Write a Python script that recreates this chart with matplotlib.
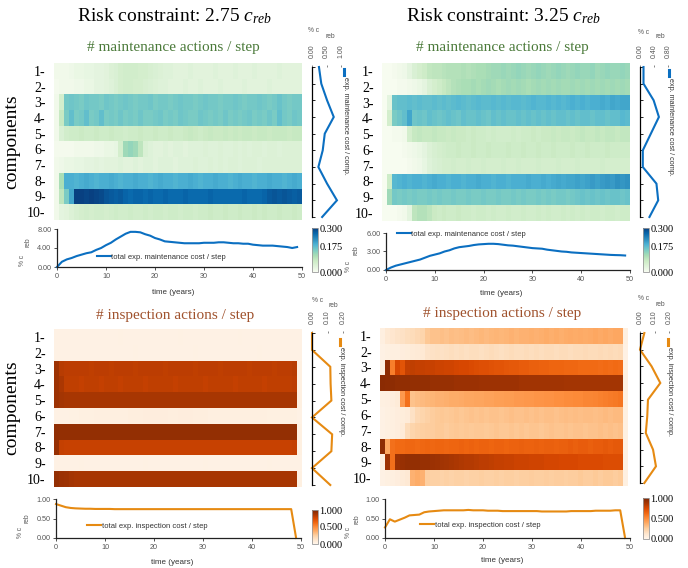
import numpy as np
import matplotlib
matplotlib.use("Agg")
import matplotlib.pyplot as plt
from matplotlib.lines import Line2D

plt.rcParams['mathtext.fontset'] = 'custom'
plt.rcParams['mathtext.rm'] = 'Liberation Serif'
plt.rcParams['mathtext.it'] = 'Liberation Serif:italic'

SERIF = 'Liberation Serif'
SANS = 'Liberation Sans'
GREY = '#555555'
BLUE = '#0b6fc1'
ORANGE = '#e68a12'

years = np.arange(50)
components = [f'{i}-' for i in range(1, 11)]

# ---------------- maintenance actions / step, risk 2.75 ----------------
maint_275 = [
    [0.01, 0.01, 0.01, 0.015, 0.02, 0.02, 0.025, 0.025, 0.03, 0.03,
     0.035, 0.045, 0.05, 0.06, 0.065, 0.065, 0.065, 0.06, 0.06, 0.055,
     0.05, 0.045, 0.04, 0.04, 0.035, 0.035, 0.035, 0.04, 0.035, 0.035,
     0.035, 0.035, 0.04, 0.035, 0.035, 0.035, 0.04, 0.035, 0.035, 0.035,
     0.04, 0.035, 0.035, 0.035, 0.035, 0.04, 0.035, 0.035, 0.035, 0.035],
    [0.005, 0.01, 0.01, 0.01, 0.015, 0.015, 0.02, 0.02, 0.03, 0.03,
     0.035, 0.04, 0.05, 0.06, 0.065, 0.065, 0.06, 0.06, 0.055, 0.05,
     0.045, 0.04, 0.04, 0.035, 0.035, 0.035, 0.04, 0.035, 0.035, 0.04,
     0.035, 0.035, 0.035, 0.04, 0.035, 0.035, 0.035, 0.035, 0.04, 0.035,
     0.035, 0.035, 0.035, 0.04, 0.035, 0.035, 0.035, 0.035, 0.035, 0.035],
    [0.01, 0.06, 0.155, 0.16, 0.155, 0.15, 0.16, 0.155, 0.155, 0.15,
     0.16, 0.155, 0.15, 0.155, 0.16, 0.155, 0.15, 0.155, 0.155, 0.16,
     0.15, 0.155, 0.155, 0.15, 0.155, 0.16, 0.155, 0.155, 0.15, 0.155,
     0.16, 0.155, 0.155, 0.15, 0.155, 0.155, 0.16, 0.155, 0.15, 0.155,
     0.155, 0.16, 0.155, 0.15, 0.155, 0.165, 0.155, 0.15, 0.155, 0.155],
    [0.01, 0.08, 0.15, 0.17, 0.15, 0.155, 0.17, 0.15, 0.155, 0.17,
     0.15, 0.155, 0.15, 0.16, 0.15, 0.155, 0.15, 0.16, 0.15, 0.15,
     0.155, 0.16, 0.15, 0.155, 0.15, 0.16, 0.155, 0.15, 0.15, 0.16,
     0.155, 0.15, 0.155, 0.15, 0.16, 0.15, 0.155, 0.15, 0.155, 0.16,
     0.15, 0.155, 0.15, 0.16, 0.15, 0.17, 0.155, 0.15, 0.16, 0.155],
    [0.01, 0.05, 0.065, 0.07, 0.07, 0.075, 0.07, 0.07, 0.075, 0.07,
     0.07, 0.075, 0.07, 0.07, 0.065, 0.07, 0.07, 0.075, 0.07, 0.07,
     0.075, 0.07, 0.07, 0.075, 0.07, 0.07, 0.075, 0.08, 0.075, 0.07,
     0.075, 0.08, 0.075, 0.075, 0.08, 0.075, 0.08, 0.075, 0.08, 0.08,
     0.075, 0.08, 0.08, 0.075, 0.08, 0.08, 0.08, 0.075, 0.08, 0.08],
    [0.005, 0.005, 0.005, 0.005, 0.01, 0.01, 0.01, 0.01, 0.015, 0.015,
     0.02, 0.02, 0.025, 0.06, 0.12, 0.13, 0.12, 0.09, 0.05, 0.04,
     0.035, 0.035, 0.04, 0.035, 0.04, 0.04, 0.035, 0.04, 0.04, 0.04,
     0.045, 0.04, 0.04, 0.045, 0.04, 0.04, 0.045, 0.04, 0.045, 0.04,
     0.045, 0.045, 0.04, 0.045, 0.045, 0.04, 0.045, 0.045, 0.045, 0.045],
    [0.01, 0.015, 0.02, 0.02, 0.025, 0.025, 0.03, 0.03, 0.035, 0.03,
     0.035, 0.035, 0.035, 0.04, 0.035, 0.035, 0.04, 0.035, 0.04, 0.04,
     0.035, 0.04, 0.04, 0.04, 0.035, 0.04, 0.04, 0.04, 0.045, 0.04,
     0.04, 0.045, 0.04, 0.045, 0.04, 0.045, 0.045, 0.04, 0.045, 0.045,
     0.045, 0.04, 0.045, 0.045, 0.045, 0.045, 0.045, 0.045, 0.045, 0.045],
    [0.01, 0.11, 0.19, 0.19, 0.185, 0.19, 0.195, 0.19, 0.185, 0.19,
     0.19, 0.195, 0.19, 0.185, 0.19, 0.19, 0.195, 0.19, 0.19, 0.185,
     0.19, 0.195, 0.19, 0.19, 0.185, 0.19, 0.19, 0.195, 0.19, 0.185,
     0.19, 0.19, 0.195, 0.19, 0.19, 0.185, 0.19, 0.195, 0.19, 0.19,
     0.185, 0.19, 0.19, 0.195, 0.19, 0.19, 0.185, 0.19, 0.195, 0.19],
    [0.01, 0.09, 0.15, 0.2, 0.3, 0.3, 0.295, 0.3, 0.295, 0.29,
     0.28, 0.275, 0.27, 0.275, 0.265, 0.26, 0.265, 0.265, 0.26, 0.265,
     0.26, 0.26, 0.265, 0.26, 0.26, 0.26, 0.265, 0.26, 0.26, 0.26,
     0.26, 0.265, 0.26, 0.26, 0.26, 0.26, 0.26, 0.26, 0.265, 0.26,
     0.26, 0.26, 0.265, 0.275, 0.28, 0.275, 0.28, 0.275, 0.27, 0.275],
    [0.01, 0.03, 0.035, 0.045, 0.055, 0.06, 0.065, 0.06, 0.065, 0.065,
     0.06, 0.065, 0.07, 0.065, 0.065, 0.07, 0.065, 0.065, 0.07, 0.065,
     0.07, 0.07, 0.065, 0.07, 0.07, 0.065, 0.07, 0.07, 0.065, 0.07,
     0.07, 0.075, 0.07, 0.07, 0.075, 0.07, 0.07, 0.075, 0.07, 0.07,
     0.075, 0.07, 0.075, 0.07, 0.07, 0.075, 0.07, 0.07, 0.075, 0.07],
]

# ---------------- maintenance actions / step, risk 3.25 ----------------
maint_325 = [
    [0.0, 0.0, 0.005, 0.01, 0.015, 0.03, 0.05, 0.06, 0.07, 0.085,
     0.09, 0.09, 0.095, 0.1, 0.1, 0.1, 0.105, 0.1, 0.105, 0.11,
     0.11, 0.115, 0.12, 0.12, 0.125, 0.12, 0.125, 0.13, 0.125, 0.12,
     0.125, 0.13, 0.125, 0.12, 0.125, 0.13, 0.125, 0.12, 0.125, 0.13,
     0.125, 0.125, 0.13, 0.12, 0.125, 0.13, 0.125, 0.125, 0.13, 0.125],
    [0.0, 0.0, 0.0, 0.005, 0.005, 0.01, 0.015, 0.02, 0.03, 0.05,
     0.06, 0.07, 0.08, 0.09, 0.1, 0.105, 0.11, 0.11, 0.115, 0.11,
     0.115, 0.12, 0.115, 0.11, 0.115, 0.12, 0.115, 0.12, 0.115, 0.11,
     0.115, 0.12, 0.115, 0.12, 0.115, 0.12, 0.115, 0.115, 0.12, 0.115,
     0.12, 0.115, 0.12, 0.115, 0.12, 0.115, 0.12, 0.115, 0.12, 0.115],
    [0.0, 0.03, 0.165, 0.17, 0.17, 0.175, 0.17, 0.175, 0.17, 0.17,
     0.175, 0.17, 0.175, 0.17, 0.175, 0.18, 0.175, 0.17, 0.175, 0.18,
     0.175, 0.175, 0.18, 0.175, 0.18, 0.175, 0.18, 0.18, 0.175, 0.18,
     0.185, 0.18, 0.18, 0.185, 0.18, 0.185, 0.18, 0.185, 0.19, 0.185,
     0.19, 0.185, 0.19, 0.19, 0.195, 0.19, 0.2, 0.195, 0.2, 0.2],
    [0.0, 0.06, 0.15, 0.16, 0.17, 0.2, 0.16, 0.165, 0.16, 0.17,
     0.165, 0.16, 0.165, 0.17, 0.165, 0.16, 0.17, 0.165, 0.165, 0.17,
     0.165, 0.16, 0.17, 0.165, 0.17, 0.165, 0.165, 0.17, 0.165, 0.17,
     0.165, 0.17, 0.165, 0.17, 0.165, 0.17, 0.17, 0.165, 0.17, 0.165,
     0.17, 0.17, 0.165, 0.17, 0.17, 0.165, 0.17, 0.17, 0.18, 0.175],
    [0.0, 0.0, 0.005, 0.005, 0.01, 0.06, 0.08, 0.085, 0.08, 0.08,
     0.085, 0.08, 0.08, 0.075, 0.08, 0.075, 0.075, 0.07, 0.075, 0.07,
     0.07, 0.065, 0.07, 0.065, 0.065, 0.065, 0.07, 0.065, 0.07, 0.07,
     0.075, 0.07, 0.075, 0.075, 0.08, 0.075, 0.08, 0.08, 0.075, 0.08,
     0.085, 0.08, 0.08, 0.085, 0.08, 0.085, 0.085, 0.08, 0.085, 0.085],
    [0.0, 0.0, 0.0, 0.0, 0.005, 0.01, 0.015, 0.02, 0.03, 0.045,
     0.055, 0.06, 0.065, 0.07, 0.07, 0.075, 0.07, 0.07, 0.075, 0.07,
     0.07, 0.075, 0.07, 0.07, 0.07, 0.075, 0.07, 0.07, 0.075, 0.07,
     0.07, 0.075, 0.07, 0.07, 0.075, 0.07, 0.07, 0.07, 0.075, 0.07,
     0.07, 0.075, 0.07, 0.07, 0.07, 0.075, 0.07, 0.07, 0.07, 0.07],
    [0.0, 0.0, 0.0, 0.0, 0.0, 0.005, 0.01, 0.015, 0.025, 0.04,
     0.05, 0.055, 0.06, 0.06, 0.065, 0.06, 0.06, 0.065, 0.06, 0.06,
     0.065, 0.06, 0.06, 0.06, 0.065, 0.06, 0.06, 0.065, 0.06, 0.06,
     0.06, 0.065, 0.06, 0.06, 0.06, 0.065, 0.06, 0.06, 0.06, 0.065,
     0.06, 0.06, 0.06, 0.06, 0.065, 0.06, 0.06, 0.06, 0.06, 0.06],
    [0.0, 0.07, 0.18, 0.185, 0.19, 0.185, 0.19, 0.19, 0.185, 0.19,
     0.195, 0.19, 0.19, 0.185, 0.19, 0.19, 0.185, 0.19, 0.19, 0.195,
     0.19, 0.19, 0.185, 0.19, 0.19, 0.185, 0.19, 0.19, 0.19, 0.195,
     0.19, 0.19, 0.195, 0.19, 0.195, 0.2, 0.195, 0.2, 0.2, 0.205,
     0.2, 0.205, 0.21, 0.205, 0.21, 0.215, 0.21, 0.22, 0.215, 0.22],
    [0.0, 0.12, 0.155, 0.15, 0.155, 0.15, 0.155, 0.15, 0.15, 0.155,
     0.15, 0.155, 0.15, 0.15, 0.155, 0.15, 0.15, 0.155, 0.15, 0.15,
     0.155, 0.15, 0.15, 0.155, 0.15, 0.15, 0.155, 0.15, 0.155, 0.15,
     0.15, 0.155, 0.15, 0.155, 0.15, 0.155, 0.155, 0.15, 0.155, 0.16,
     0.165, 0.16, 0.165, 0.16, 0.165, 0.16, 0.165, 0.165, 0.16, 0.165],
    [0.0, 0.0, 0.0, 0.005, 0.01, 0.03, 0.09, 0.1, 0.1, 0.09,
     0.075, 0.07, 0.075, 0.07, 0.07, 0.075, 0.07, 0.07, 0.065, 0.07,
     0.07, 0.065, 0.07, 0.065, 0.065, 0.07, 0.065, 0.065, 0.07, 0.065,
     0.065, 0.07, 0.065, 0.07, 0.065, 0.065, 0.07, 0.065, 0.07, 0.065,
     0.07, 0.065, 0.07, 0.07, 0.065, 0.07, 0.07, 0.065, 0.07, 0.07],
]

# ---------------- inspection actions / step, risk 2.75 ----------------
insp_275 = [
    [0.03, 0.03, 0.03, 0.03, 0.03, 0.03, 0.03, 0.03, 0.03, 0.03,
     0.03, 0.03, 0.03, 0.035, 0.03, 0.03, 0.03, 0.03, 0.03, 0.03,
     0.03, 0.03, 0.03, 0.03, 0.03, 0.035, 0.03, 0.03, 0.03, 0.03,
     0.03, 0.03, 0.03, 0.03, 0.03, 0.03, 0.03, 0.035, 0.03, 0.03,
     0.03, 0.03, 0.03, 0.03, 0.03, 0.03, 0.03, 0.03, 0.03, 0.03],
    [0.03, 0.03, 0.03, 0.03, 0.03, 0.03, 0.03, 0.03, 0.03, 0.03,
     0.03, 0.03, 0.03, 0.03, 0.03, 0.03, 0.035, 0.03, 0.03, 0.03,
     0.03, 0.03, 0.03, 0.03, 0.03, 0.03, 0.03, 0.03, 0.035, 0.03,
     0.03, 0.03, 0.03, 0.03, 0.03, 0.03, 0.03, 0.03, 0.03, 0.03,
     0.03, 0.035, 0.03, 0.03, 0.03, 0.03, 0.03, 0.03, 0.03, 0.03],
    [0.9, 0.83, 0.82, 0.82, 0.82, 0.82, 0.82, 0.81, 0.82, 0.82,
     0.82, 0.81, 0.82, 0.82, 0.82, 0.82, 0.81, 0.82, 0.82, 0.82,
     0.82, 0.82, 0.81, 0.82, 0.82, 0.82, 0.82, 0.82, 0.81, 0.82,
     0.82, 0.82, 0.82, 0.81, 0.82, 0.82, 0.82, 0.82, 0.82, 0.81,
     0.82, 0.82, 0.82, 0.82, 0.81, 0.82, 0.82, 0.82, 0.83, 0.04],
    [0.9, 0.86, 0.81, 0.81, 0.81, 0.8, 0.81, 0.81, 0.81, 0.8,
     0.81, 0.81, 0.81, 0.8, 0.81, 0.81, 0.81, 0.81, 0.8, 0.81,
     0.81, 0.81, 0.81, 0.81, 0.8, 0.81, 0.81, 0.81, 0.81, 0.81,
     0.8, 0.81, 0.81, 0.81, 0.81, 0.81, 0.8, 0.81, 0.81, 0.81,
     0.81, 0.81, 0.8, 0.81, 0.81, 0.81, 0.81, 0.81, 0.82, 0.04],
    [0.9, 0.88, 0.87, 0.87, 0.87, 0.87, 0.87, 0.87, 0.87, 0.87,
     0.87, 0.87, 0.87, 0.87, 0.87, 0.87, 0.87, 0.87, 0.87, 0.87,
     0.87, 0.87, 0.87, 0.87, 0.87, 0.87, 0.87, 0.87, 0.87, 0.87,
     0.87, 0.87, 0.87, 0.87, 0.87, 0.87, 0.87, 0.87, 0.87, 0.87,
     0.87, 0.87, 0.87, 0.87, 0.87, 0.87, 0.87, 0.87, 0.87, 0.04],
    [0.03, 0.03, 0.03, 0.035, 0.035, 0.04, 0.04, 0.04, 0.045, 0.045,
     0.045, 0.05, 0.05, 0.05, 0.05, 0.055, 0.055, 0.055, 0.06, 0.06,
     0.06, 0.06, 0.06, 0.055, 0.055, 0.06, 0.06, 0.06, 0.055, 0.055,
     0.055, 0.05, 0.05, 0.05, 0.05, 0.05, 0.05, 0.045, 0.045, 0.045,
     0.045, 0.045, 0.045, 0.04, 0.04, 0.04, 0.04, 0.04, 0.04, 0.03],
    [0.94, 0.93, 0.93, 0.93, 0.93, 0.93, 0.93, 0.93, 0.93, 0.93,
     0.93, 0.93, 0.93, 0.93, 0.93, 0.93, 0.93, 0.93, 0.93, 0.93,
     0.93, 0.93, 0.93, 0.93, 0.93, 0.93, 0.93, 0.93, 0.93, 0.93,
     0.93, 0.93, 0.93, 0.93, 0.93, 0.93, 0.93, 0.93, 0.93, 0.93,
     0.93, 0.93, 0.93, 0.93, 0.93, 0.93, 0.93, 0.93, 0.93, 0.04],
    [0.92, 0.8, 0.79, 0.79, 0.79, 0.79, 0.79, 0.79, 0.79, 0.79,
     0.79, 0.79, 0.79, 0.79, 0.79, 0.79, 0.79, 0.79, 0.79, 0.79,
     0.79, 0.79, 0.79, 0.79, 0.79, 0.79, 0.79, 0.79, 0.79, 0.79,
     0.79, 0.79, 0.79, 0.79, 0.79, 0.79, 0.79, 0.79, 0.79, 0.79,
     0.79, 0.79, 0.79, 0.79, 0.79, 0.79, 0.79, 0.79, 0.8, 0.04],
    [0.03, 0.03, 0.03, 0.03, 0.03, 0.035, 0.03, 0.03, 0.03, 0.03,
     0.03, 0.03, 0.03, 0.03, 0.03, 0.03, 0.03, 0.03, 0.035, 0.03,
     0.03, 0.03, 0.03, 0.03, 0.03, 0.03, 0.03, 0.03, 0.03, 0.03,
     0.035, 0.03, 0.03, 0.03, 0.03, 0.03, 0.03, 0.03, 0.03, 0.03,
     0.03, 0.03, 0.03, 0.035, 0.03, 0.03, 0.03, 0.03, 0.03, 0.03],
    [0.93, 0.91, 0.9, 0.88, 0.87, 0.87, 0.87, 0.87, 0.87, 0.87,
     0.87, 0.87, 0.87, 0.87, 0.87, 0.87, 0.87, 0.87, 0.87, 0.87,
     0.87, 0.87, 0.87, 0.87, 0.87, 0.87, 0.87, 0.87, 0.87, 0.87,
     0.87, 0.87, 0.87, 0.87, 0.87, 0.87, 0.87, 0.87, 0.87, 0.87,
     0.87, 0.87, 0.87, 0.87, 0.87, 0.87, 0.87, 0.87, 0.87, 0.04],
]

# ---------------- inspection actions / step, risk 3.25 ----------------
insp_325 = [
    [0.05, 0.1, 0.12, 0.14, 0.15, 0.17, 0.18, 0.2, 0.22, 0.28,
     0.3, 0.3, 0.31, 0.3, 0.32, 0.31, 0.32, 0.33, 0.32, 0.33,
     0.34, 0.33, 0.34, 0.35, 0.34, 0.35, 0.36, 0.35, 0.36, 0.36,
     0.37, 0.36, 0.37, 0.38, 0.37, 0.38, 0.37, 0.38, 0.39, 0.38,
     0.39, 0.38, 0.39, 0.4, 0.39, 0.4, 0.39, 0.4, 0.4, 0.04],
    [0.03, 0.04, 0.05, 0.05, 0.06, 0.07, 0.08, 0.09, 0.1, 0.14,
     0.15, 0.16, 0.15, 0.16, 0.17, 0.16, 0.17, 0.16, 0.17, 0.17,
     0.16, 0.17, 0.18, 0.17, 0.16, 0.17, 0.18, 0.17, 0.17, 0.18,
     0.17, 0.18, 0.17, 0.18, 0.18, 0.17, 0.18, 0.18, 0.17, 0.18,
     0.18, 0.19, 0.18, 0.18, 0.19, 0.18, 0.19, 0.18, 0.19, 0.03],
    [0.04, 0.95, 0.55, 0.75, 0.7, 0.8, 0.81, 0.8, 0.8, 0.79,
     0.79, 0.78, 0.78, 0.77, 0.77, 0.76, 0.75, 0.75, 0.74, 0.73,
     0.72, 0.72, 0.71, 0.7, 0.7, 0.69, 0.68, 0.68, 0.67, 0.67,
     0.66, 0.66, 0.65, 0.65, 0.64, 0.64, 0.64, 0.63, 0.63, 0.63,
     0.62, 0.62, 0.62, 0.62, 0.61, 0.62, 0.61, 0.62, 0.61, 0.04],
    [0.96, 0.95, 0.95, 0.94, 0.94, 0.94, 0.93, 0.93, 0.93, 0.93,
     0.92, 0.92, 0.92, 0.92, 0.92, 0.91, 0.91, 0.91, 0.91, 0.91,
     0.9, 0.9, 0.9, 0.9, 0.9, 0.9, 0.9, 0.9, 0.89, 0.89,
     0.89, 0.89, 0.89, 0.89, 0.89, 0.89, 0.89, 0.88, 0.88, 0.88,
     0.88, 0.88, 0.88, 0.88, 0.88, 0.88, 0.88, 0.88, 0.88, 0.04],
    [0.04, 0.05, 0.06, 0.08, 0.45, 0.6, 0.3, 0.32, 0.33, 0.34,
     0.35, 0.36, 0.36, 0.37, 0.38, 0.38, 0.39, 0.4, 0.4, 0.41,
     0.41, 0.42, 0.42, 0.43, 0.43, 0.44, 0.44, 0.45, 0.45, 0.46,
     0.46, 0.47, 0.47, 0.48, 0.48, 0.49, 0.49, 0.5, 0.5, 0.51,
     0.51, 0.52, 0.52, 0.53, 0.54, 0.55, 0.56, 0.57, 0.58, 0.04],
    [0.03, 0.04, 0.05, 0.06, 0.07, 0.08, 0.15, 0.2, 0.22, 0.24,
     0.26, 0.27, 0.28, 0.27, 0.28, 0.29, 0.28, 0.29, 0.3, 0.29,
     0.3, 0.29, 0.3, 0.3, 0.29, 0.3, 0.31, 0.3, 0.3, 0.31,
     0.3, 0.31, 0.3, 0.31, 0.31, 0.3, 0.31, 0.32, 0.31, 0.32,
     0.31, 0.32, 0.32, 0.31, 0.32, 0.33, 0.32, 0.33, 0.33, 0.04],
    [0.03, 0.04, 0.05, 0.06, 0.08, 0.18, 0.22, 0.24, 0.25, 0.26,
     0.26, 0.27, 0.27, 0.26, 0.27, 0.28, 0.27, 0.28, 0.27, 0.28,
     0.28, 0.27, 0.28, 0.29, 0.28, 0.28, 0.29, 0.28, 0.29, 0.28,
     0.29, 0.29, 0.28, 0.29, 0.3, 0.29, 0.29, 0.3, 0.29, 0.3,
     0.3, 0.29, 0.3, 0.3, 0.31, 0.3, 0.31, 0.3, 0.31, 0.04],
    [0.95, 0.4, 0.6, 0.62, 0.62, 0.63, 0.63, 0.62, 0.63, 0.64,
     0.63, 0.64, 0.64, 0.63, 0.64, 0.64, 0.65, 0.64, 0.65, 0.64,
     0.65, 0.65, 0.64, 0.65, 0.65, 0.64, 0.65, 0.65, 0.66, 0.65,
     0.65, 0.66, 0.65, 0.66, 0.66, 0.65, 0.66, 0.66, 0.67, 0.66,
     0.67, 0.67, 0.66, 0.67, 0.67, 0.68, 0.67, 0.68, 0.68, 0.04],
    [0.04, 0.9, 0.6, 0.9, 0.92, 0.93, 0.93, 0.93, 0.92, 0.92,
     0.91, 0.9, 0.89, 0.88, 0.87, 0.86, 0.85, 0.84, 0.84, 0.83,
     0.82, 0.82, 0.81, 0.8, 0.8, 0.79, 0.79, 0.78, 0.78, 0.78,
     0.77, 0.77, 0.77, 0.76, 0.76, 0.76, 0.75, 0.75, 0.75, 0.75,
     0.74, 0.74, 0.74, 0.74, 0.74, 0.73, 0.73, 0.73, 0.73, 0.04],
    [0.03, 0.04, 0.05, 0.06, 0.08, 0.1, 0.36, 0.38, 0.36, 0.25,
     0.24, 0.24, 0.23, 0.24, 0.23, 0.24, 0.24, 0.23, 0.24, 0.24,
     0.25, 0.24, 0.24, 0.25, 0.24, 0.25, 0.25, 0.24, 0.25, 0.25,
     0.26, 0.25, 0.25, 0.26, 0.25, 0.26, 0.26, 0.25, 0.26, 0.26,
     0.27, 0.26, 0.26, 0.27, 0.26, 0.27, 0.27, 0.26, 0.27, 0.04],
]

# expected cost per component (% c_reb)
maint_comp_275 = [0.24, 0.32, 0.52, 0.75, 0.44, 0.37, 0.22, 0.52, 0.86, 0.35]
maint_comp_325 = [0.10, 0.10, 0.39, 0.54, 0.31, 0.08, 0.08, 0.47, 0.52, 0.27]
insp_comp_275 = [0.0, 0.0, 0.118, 0.12, 0.125, 0.0, 0.13, 0.125, 0.0, 0.118]
insp_comp_325 = [0.03, 0.0, 0.08, 0.14, 0.055, 0.05, 0.04, 0.09, 0.11, 0.03]

# total expected cost per step (% c_reb)
maint_total_275 = [0.0, 1.1, 1.6, 1.9, 2.3, 2.6, 2.9, 3.1, 3.6, 4.0,
                   4.6, 5.1, 5.8, 6.4, 7.0, 7.4, 7.4, 7.3, 6.9, 6.6,
                   6.1, 5.8, 5.4, 5.3, 5.2, 5.1, 5.0, 5.0, 5.0, 5.0,
                   5.1, 5.1, 5.1, 5.2, 5.2, 5.1, 5.0, 5.0, 4.9, 4.9,
                   4.7, 4.6, 4.5, 4.5, 4.5, 4.4, 4.3, 4.2, 4.0, 4.2]
maint_total_325 = [0.0, 0.4, 0.7, 0.9, 1.1, 1.3, 1.5, 1.7, 2.0, 2.3,
                   2.5, 2.7, 3.0, 3.2, 3.5, 3.7, 3.8, 3.9, 4.05, 4.15,
                   4.2, 4.25, 4.25, 4.2, 4.1, 4.0, 3.95, 3.85, 3.75, 3.65,
                   3.55, 3.5, 3.45, 3.3, 3.2, 3.1, 3.0, 2.95, 2.85, 2.8,
                   2.75, 2.7, 2.65, 2.6, 2.55, 2.5, 2.45, 2.42, 2.4, 2.35]
insp_total_275 = [0.87, 0.83, 0.79, 0.77, 0.76, 0.755, 0.75, 0.75, 0.745, 0.745,
                  0.745, 0.745, 0.74, 0.74, 0.74, 0.74, 0.74, 0.74, 0.74, 0.74,
                  0.74, 0.74, 0.74, 0.74, 0.74, 0.74, 0.74, 0.74, 0.74, 0.74,
                  0.74, 0.74, 0.74, 0.74, 0.74, 0.74, 0.74, 0.74, 0.74, 0.74,
                  0.74, 0.74, 0.74, 0.74, 0.74, 0.74, 0.74, 0.74, 0.74, 0.0]
insp_total_325 = [0.27, 0.48, 0.42, 0.47, 0.52, 0.58, 0.59, 0.6, 0.66, 0.68,
                  0.69, 0.7, 0.71, 0.71, 0.71, 0.71, 0.71, 0.72, 0.71, 0.71,
                  0.71, 0.7, 0.7, 0.7, 0.69, 0.69, 0.69, 0.69, 0.69, 0.69,
                  0.69, 0.69, 0.68, 0.68, 0.68, 0.68, 0.68, 0.68, 0.69, 0.69,
                  0.69, 0.69, 0.69, 0.7, 0.7, 0.7, 0.7, 0.71, 0.71, 0.0]

# ---------------------------------------------------------------------
W, H = 688, 568
fig = plt.figure(figsize=(W / 100, H / 100), dpi=100)


def rect(l, t, r, b):
    return [l / W, 1 - b / H, (r - l) / W, (b - t) / H]


def fx(x):
    return x / W


def fy(y):
    return 1 - y / H


def small_text(x, y, s, **kw):
    fig.text(fx(x), fy(y), s, fontsize=4.8, family=SANS, color=GREY,
             ha='center', va='center', **kw)


def panel(heat, comp, total, cfg):
    # heatmap of actions per component and year
    axh = fig.add_axes(rect(*cfg['heat']))
    im = axh.imshow(np.array(heat), aspect='auto', cmap=cfg['cmap'],
                    vmin=0, vmax=cfg['vmax'], interpolation='nearest')
    axh.set_xticks([])
    axh.set_yticks(range(10))
    axh.set_yticklabels(components, family=SERIF, fontsize=10)
    axh.tick_params(axis='y', length=0, pad=6)
    for s in axh.spines.values():
        s.set_visible(False)
    if cfg['ylabel']:
        axh.set_ylabel('components', family=SERIF, fontsize=14)
        axh.yaxis.set_label_coords(-0.135, 0.5)

    # per-component expected cost profile
    axp = fig.add_axes(rect(*cfg['prof']))
    axp.plot(comp, np.arange(10), color=cfg['color'], lw=1.5,
             solid_joinstyle='miter', clip_on=False)
    axp.set_ylim(9, 0)
    axp.set_xlim(0, cfg['pmax'])
    axp.set_yticks(range(10))
    axp.set_yticklabels([])
    axp.tick_params(axis='y', direction='in', length=2, width=0.6)
    axp.xaxis.tick_top()
    pt = cfg['pticks']
    axp.set_xticks(pt)
    axp.set_xticklabels([f'{v:.2f}' for v in pt], rotation=90, fontsize=5,
                        family=SANS, color=GREY)
    axp.tick_params(axis='x', direction='out', length=1.5, width=0.5,
                    pad=5, color=GREY)
    axp.patch.set_visible(False)
    for side in ('top', 'right', 'bottom'):
        axp.spines[side].set_visible(False)
    axp.spines['left'].set_linewidth(0.9)
    hx, hy0, hy1, tx, ty = cfg['pleg']
    fig.add_artist(Line2D([fx(hx), fx(hx)], [fy(hy0), fy(hy1)],
                          transform=fig.transFigure, color=cfg['color'], lw=2.2))
    fig.text(fx(tx), fy(ty), cfg['pleg_text'], rotation=-90, fontsize=5.2,
             family=SANS, color='#333333', ha='center', va='top')
    (cx, cy), (rx, ry) = cfg['phead']
    small_text(cx, cy, '% c')
    small_text(rx, ry, 'reb')

    # total expected cost per step over time
    l, t, r, b = cfg['line']
    axl = fig.add_axes(rect(l, t, r, b))
    axl.plot(years, total, color=cfg['color'], lw=1.5, clip_on=False,
             label=cfg['lleg_text'])
    axl.set_xlim(0, 50)
    axl.set_ylim(0, cfg['lmax'])
    axl.set_xticks(range(0, 51, 10))
    axl.set_yticks(cfg['lticks'])
    axl.set_yticklabels([f'{v:.2f}' for v in cfg['lticks']])
    for lab in axl.get_xticklabels() + axl.get_yticklabels():
        lab.set_fontsize(5.2)
        lab.set_family(SANS)
        lab.set_color(GREY)
    axl.tick_params(length=2, width=0.6, pad=2, color='#333333')
    for side in ('top', 'right'):
        axl.spines[side].set_visible(False)
    for side in ('left', 'bottom'):
        axl.spines[side].set_linewidth(0.9)
        axl.spines[side].set_color('#222222')
    axl.patch.set_visible(False)
    axl.legend(loc='center left', bbox_to_anchor=cfg['lleg'], frameon=False,
               prop={'family': SANS, 'size': 5.5}, handlelength=1.8,
               handletextpad=0.1, borderpad=0, borderaxespad=0,
               labelcolor='#333333')
    xcx, xcy = cfg['xlab']
    axl.set_xlabel('time (years)', fontsize=5.8, family=SANS, color='#333333')
    axl.xaxis.set_label_coords((xcx - l) / (r - l), (b - xcy) / (b - t))
    axl.xaxis.label.set_va('center')
    (ax1, ay1), (ax2, ay2) = cfg['lhead']
    small_text(ax1, ay1, '% c', rotation=90)
    small_text(ax2, ay2, 'reb', rotation=90)

    # colour scale
    axc = fig.add_axes(rect(*cfg['cbar']))
    cb = fig.colorbar(im, cax=axc, ticks=cfg['cticks'])
    cb.ax.set_yticklabels([f'{v:.3f}' for v in cfg['cticks']], family=SERIF,
                          fontsize=7.5)
    cb.ax.tick_params(length=0, pad=1)
    cb.outline.set_edgecolor('#999999')
    cb.outline.set_linewidth(0.6)


common_m = dict(cmap='GnBu', vmax=0.3, cticks=[0.0, 0.175, 0.3], color=BLUE,
                pleg_text='exp. maintenance cost / comp.',
                lleg_text='total exp. maintenance cost / step')
common_i = dict(cmap='Oranges', vmax=1.0, cticks=[0.0, 0.5, 1.0], color=ORANGE,
                pmax=0.2, pticks=[0.0, 0.1, 0.2], lmax=1.0,
                lticks=[0.0, 0.5, 1.0],
                pleg_text='exp. inspection cost / comp.',
                lleg_text='total exp. inspection cost / step')

panel(maint_275, maint_comp_275, maint_total_275, dict(
    common_m, heat=(54, 63, 302, 220), prof=(312, 67, 341, 217),
    line=(57, 229, 302, 267), cbar=(312, 228, 318, 272),
    pmax=1.0, pticks=[0.0, 0.5, 1.0], lmax=8.0, lticks=[0.0, 4.0, 8.0],
    pleg=(343.5, 69, 75, 345.5, 77), phead=((314, 31), (330, 37)),
    lleg=(0.163, 0.26), xlab=(173, 292), lhead=((22, 261), (28, 242)),
    ylabel=True))

panel(maint_325, maint_comp_325, maint_total_325, dict(
    common_m, heat=(382, 63, 630, 221), prof=(640, 67, 668, 217),
    line=(386, 233, 630, 270), cbar=(643, 228, 649, 272),
    pmax=0.8, pticks=[0.0, 0.4, 0.8], lmax=6.0, lticks=[0.0, 3.0, 6.0],
    pleg=(668.5, 70, 76, 670.5, 78), phead=((644, 32), (660, 37)),
    lleg=(0.045, 0.97), xlab=(501, 294), lhead=((349, 267), (356, 250)),
    ylabel=False))

panel(insp_275, insp_comp_275, insp_total_275, dict(
    common_i, heat=(54, 329, 302, 487), prof=(312, 333, 343, 485),
    line=(56, 499, 301, 538), cbar=(312, 510, 318, 544),
    pleg=(339.5, 339, 345, 341.5, 347), phead=((318, 301), (333, 306)),
    lleg=(0.127, 0.31), xlab=(172, 563), lhead=((21, 533), (27, 518)),
    ylabel=True))

panel(insp_325, insp_comp_325, insp_total_325, dict(
    common_i, heat=(380, 328, 628, 486), prof=(640, 333, 669, 483),
    line=(385, 499, 630, 538), cbar=(643, 498, 649, 539),
    pleg=(667.5, 339, 345, 669, 347), phead=((644, 299), (660, 304)),
    lleg=(0.143, 0.33), xlab=(502, 561), lhead=((349, 532), (357, 519)),
    ylabel=False))

# column headings and panel titles
for cx, txt in ((175, r'Risk constraint: 2.75 $c_{reb}$'),
                (504, r'Risk constraint: 3.25 $c_{reb}$')):
    fig.text(fx(cx), fy(16), txt, family=SERIF, fontsize=14,
             ha='center', va='center')
for cx in (173, 502):
    fig.text(fx(cx), fy(47), '# maintenance actions / step', family=SERIF,
             fontsize=11, color='#4b7a3a', ha='center', va='center')
for cx, cy in ((175, 316), (502, 314)):
    fig.text(fx(cx), fy(cy), '# inspection actions / step', family=SERIF,
             fontsize=11, color='#a0522d', ha='center', va='center')

fig.savefig('out.png', dpi=100, facecolor='white')
